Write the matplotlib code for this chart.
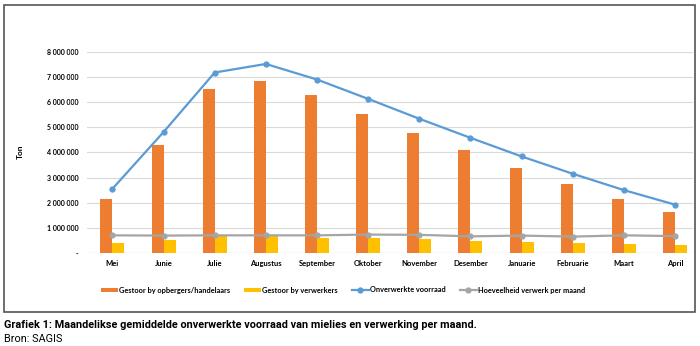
import matplotlib
matplotlib.use("Agg")
import matplotlib.pyplot as plt
from matplotlib.patches import Rectangle
from matplotlib.ticker import FuncFormatter
import numpy as np

months = ['Mei', 'Junie', 'Julie', 'Augustus', 'September', 'Oktober', 'November',
          'Desember', 'Januarie', 'Februarie', 'Maart', 'April']
opbergers = [2.15e6, 4.29e6, 6.51e6, 6.83e6, 6.28e6, 5.53e6, 4.79e6, 4.09e6, 3.37e6, 2.74e6, 2.14e6, 1.61e6]
verwerkers = [0.39e6, 0.53e6, 0.68e6, 0.68e6, 0.61e6, 0.58e6, 0.54e6, 0.47e6, 0.44e6, 0.40e6, 0.36e6, 0.31e6]
voorraad = [2.55e6, 4.81e6, 7.18e6, 7.52e6, 6.90e6, 6.13e6, 5.34e6, 4.58e6, 3.84e6, 3.15e6, 2.50e6, 1.92e6]
verwerk_pm = [0.70e6, 0.69e6, 0.70e6, 0.70e6, 0.70e6, 0.73e6, 0.72e6, 0.66e6, 0.69e6, 0.65e6, 0.70e6, 0.67e6]

plt.rcParams['font.family'] = ['Lato', 'DejaVu Sans']

fig = plt.figure(figsize=(7, 3.46), dpi=100)
ax = fig.add_axes([0.124, 0.269, 0.866, 0.581])

x = np.arange(len(months))
w = 0.235
b1 = ax.bar(x - w / 2, opbergers, width=w, color='#ED7D31', label='Gestoor by opbergers/handelaars', zorder=2)
b2 = ax.bar(x + w / 2, verwerkers, width=w, color='#FFC000', label='Gestoor by verwerkers', zorder=2)
l1, = ax.plot(x, voorraad, color='#5B9BD5', lw=1.6, marker='o', ms=3.5, label='Onverwerkte voorraad', zorder=3, clip_on=False)
l2, = ax.plot(x, verwerk_pm, color='#A5A5A5', lw=1.6, marker='o', ms=3.5, label='Hoeveelheid verwerk per maand', zorder=3)

ax.set_xlim(-0.5, 11.35)
ax.set_ylim(0, 8e6)
ax.set_yticks(np.arange(0, 8.01e6, 1e6))
ax.yaxis.set_major_formatter(FuncFormatter(lambda v, p: '-' if v == 0 else f'{int(v):,}'.replace(',', ' ')))
ax.set_xticks(x)
ax.set_xticklabels(months, fontsize=5.5, fontweight='bold')
for t in ax.get_yticklabels():
    t.set_fontsize(5.0)
    t.set_fontweight('bold')
ax.tick_params(axis='y', length=0, pad=6)
ax.tick_params(axis='x', length=0, pad=5)
ax.grid(axis='y', color='#D9D9D9', lw=0.8, zorder=0)
for s in ax.spines.values():
    s.set_visible(False)
ax.axhline(0, color='#D9D9D9', lw=0.8, zorder=1)

fig.text(20 / 700, 1 - 152 / 346, 'Ton', rotation=90, fontsize=6, fontweight='bold', ha='center', va='center')

fig.legend([b1, b2, l1, l2], [b1.get_label(), b2.get_label(), l1.get_label(), l2.get_label()],
           loc='center', bbox_to_anchor=(0.49, 1 - 290 / 346), ncol=4, frameon=False,
           prop={'size': 5.3, 'weight': 'bold'}, columnspacing=1.9, handlelength=2.3, handletextpad=0.15,
           handleheight=0.6)

fig.patches.append(Rectangle((4 / 700, 1 - 312 / 346), 691 / 700, 307 / 346, transform=fig.transFigure,
                             fill=False, edgecolor='#555555', lw=1.2))

cap = fig.text(4 / 700, 1 - 325 / 346,
               'Grafiek 1: Maandelikse gemiddelde onverwerkte voorraad van mielies en verwerking per maand.',
               fontsize=8.5, fontweight='bold', va='center', family=['Roboto', 'DejaVu Sans'])
src = fig.text(4 / 700, 1 - 339 / 346, 'Bron: SAGIS', fontsize=8.5, va='center', family=['Roboto', 'DejaVu Sans'])

# scale caption so it spans the same width as in the source picture
r = fig.canvas.get_renderer()
cw = cap.get_window_extent(r).width
scale = 469 / cw
cap.set_fontsize(8.5 * scale)
src.set_fontsize(8.5 * scale)

fig.savefig('out.png', dpi=100)
